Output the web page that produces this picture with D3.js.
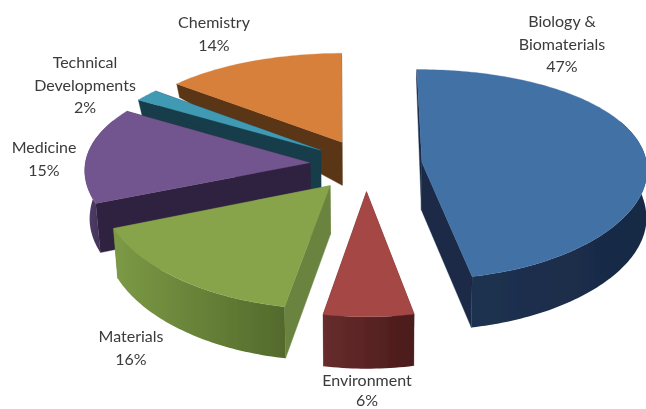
<!DOCTYPE html>
<html><head><meta charset="utf-8">
<script src="https://cdnjs.cloudflare.com/ajax/libs/d3/7.8.5/d3.min.js"></script>
<style>html,body{margin:0;padding:0;background:#fff;overflow:hidden}svg{display:block}</style>
</head><body><svg id="c" width="646" height="409"></svg>
<script>
const categories = ["Biology & Biomaterials","Environment","Materials","Medicine","Technical Developments","Chemistry"];
const shares = [47,6,16,15,2,14];
const labelLines = [["Biology &","Biomaterials","47%"],["Environment","6%"],["Materials","16%"],["Medicine","15%"],["Technical","Developments","2%"],["Chemistry","14%"]];
const topColors = ["#4371a6","#a54644","#87a44c","#72558f","#3f9ab4","#d6803a"];
const wallColors = ["#1a2c47","#5c2726","#6b8440","#2f223f","#173d48","#5a3413"];
const rimStart = ["#1d3150","#672d2c","#7c9a45","#54406f","#173d48","#5a3413"];
const rimEnd = ["#182a44","#4b1a1a","#526a2c","#2f223f","#173d48","#5a3413"];
const labelX = [562,367,131,44,85,214];
const labelY = [27,386,342,153,68,28];
const labelGap = [22.7,20,22.7,22.7,22.7,22.7];
const drawOrder = [5,4,3,0,2,1];

const cx=366, cy=165, rx=225, ry=104, perspX=0.06, perspY=0.115, explode=0.25;
const depthScale = d3.scaleLinear().domain([-1.3,-0.8,-0.6,-0.2,0,1.3]).range([2,15,16,45,48,52]).clamp(true);
const shrink = d3.scaleLinear().domain([-300,0,300]).range([0.982,0.99,0.998]);
const project = (u,v)=>[cx+rx*u/(1-perspX*v), cy+ry*v/(1-perspY*v)];
const below = (u,v)=>{const p=project(u,v),dx=p[0]-cx;return [cx+dx*shrink(dx), p[1]+depthScale(v)];};

const start=-0.5*Math.PI/180;
const pie=d3.pie().sort(null).startAngle(start).endAngle(start+2*Math.PI);
const slices=pie(shares);
const line=d3.line();
const svg=d3.select("#c");
const defs=svg.append("defs");
defs.append("filter").attr("id","soft").attr("x","-5%").attr("y","-5%").attr("width","110%").attr("height","110%")
  .append("feGaussianBlur").attr("stdDeviation",0.55);
defs.append("filter").attr("id","softT").attr("x","-5%").attr("y","-20%").attr("width","110%").attr("height","140%")
  .append("feGaussianBlur").attr("stdDeviation",0.35);
slices.forEach((d,i)=>{
  const g=defs.append("linearGradient").attr("id","rim"+i);
  g.append("stop").attr("offset","0%").attr("stop-color",rimStart[i]);
  g.append("stop").attr("offset","100%").attr("stop-color",rimEnd[i]);
});
const root=svg.append("g").attr("filter","url(#soft)");
drawOrder.forEach(i=>{
  const d=slices[i], mid=(d.startAngle+d.endAngle)/2;
  const ax=explode*Math.sin(mid), ay=-explode*Math.cos(mid);
  const n=Math.max(8,Math.ceil((d.endAngle-d.startAngle)/0.02));
  const ang=d3.range(n+1).map(k=>d.startAngle+(d.endAngle-d.startAngle)*k/n);
  const rim=ang.map(a=>[ax+Math.sin(a),ay-Math.cos(a)]);
  const g=root.append("g");
  [rim[0],rim[n]].forEach(e=>{
    g.append("path").attr("fill",wallColors[i]).attr("stroke",wallColors[i]).attr("stroke-width",0.4)
     .attr("d",line([project(ax,ay),project(e[0],e[1]),below(e[0],e[1]),below(ax,ay)])+"Z");
  });
  const rimVisible=rim.filter(p=>p[1]>-0.45);
  if(rimVisible.length>1){
    const top=rimVisible.map(p=>project(p[0],p[1]));
    const bot=rimVisible.map(p=>below(p[0],p[1])).reverse();
    g.append("path").attr("fill",`url(#rim${i})`).attr("d",line(top.concat(bot))+"Z");
  }
  g.append("path").attr("fill",topColors[i]).attr("stroke",topColors[i]).attr("stroke-width",0.3)
   .attr("d",line([project(ax,ay)].concat(rim.map(p=>project(p[0],p[1]))))+"Z");
});
const lab=svg.append("g").attr("filter","url(#softT)").attr("font-family","Lato, 'Open Sans', sans-serif")
  .attr("font-size",16).attr("fill","#3a3a3a").attr("text-anchor","middle");
labelLines.forEach((ls,i)=>{
  ls.forEach((t,k)=>{
    lab.append("text").attr("x",labelX[i]).attr("y",labelY[i]+k*labelGap[i]).text(t);
  });
});
</script></body></html>
